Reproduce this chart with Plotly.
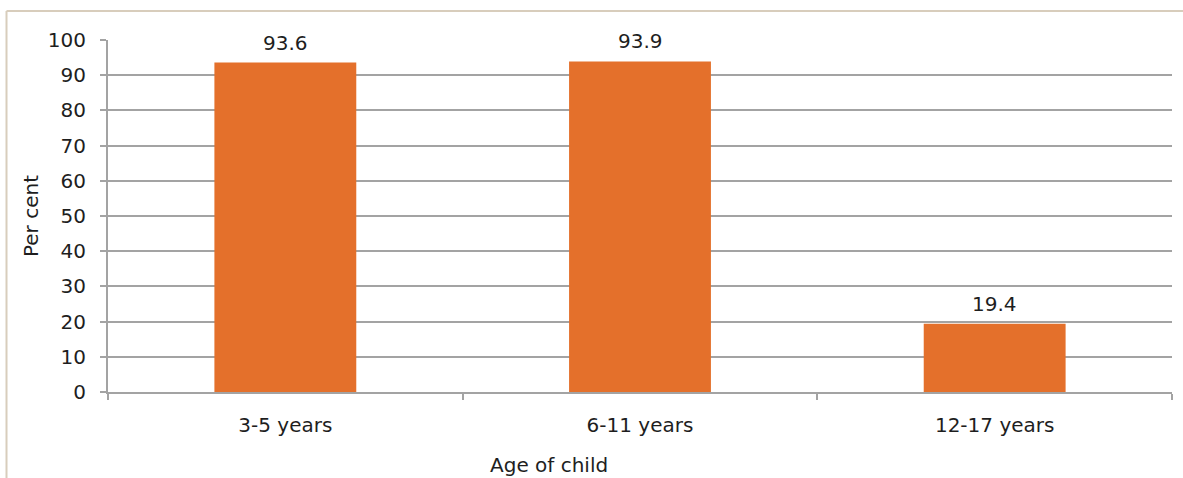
import plotly.graph_objects as go

categories = ["3-5 years", "6-11 years", "12-17 years"]
values = [93.6, 93.9, 19.4]
value_labels = ["93.6", "93.9", "19.4"]

W, H = 1183, 478
L, R, T, B = 108, 11, 40, 86
pw = W - L - R
ph = H - T - B

font_family = "'DejaVu Sans', sans-serif"
fs = 20
txt_color = "#1E1E1E"
bar_color = "#E4702B"
grid_color = "#A3A3A3"

fig = go.Figure()
fig.add_trace(go.Bar(
    x=categories, y=values, width=0.4,
    marker=dict(color=bar_color, line=dict(width=0)),
    cliponaxis=False,
))

for c, v, t in zip(categories, values, value_labels):
    fig.add_annotation(x=c, y=v, text=t, showarrow=False, yanchor="bottom",
                       yshift=6, font=dict(size=fs, color=txt_color, family=font_family))

fig.update_layout(
    width=W, height=H,
    margin=dict(l=L, r=R, t=T, b=B, pad=0),
    paper_bgcolor="white", plot_bgcolor="white",
    showlegend=False,
    font=dict(family=font_family, size=fs, color=txt_color),
    xaxis=dict(
        showgrid=False, showline=True, linecolor=grid_color, linewidth=2,
        ticks="outside", ticklen=6, tickcolor=grid_color, tickwidth=2,
        tickson="boundaries",
        tickfont=dict(size=fs, color=txt_color),
        ticklabelstandoff=14,
    ),
    yaxis=dict(
        range=[0, 100], dtick=10, showgrid=True, gridcolor=grid_color, gridwidth=2,
        showline=True, linecolor=grid_color, linewidth=2,
        ticks="outside", ticklen=6, tickcolor=grid_color, tickwidth=2,
        tickfont=dict(size=fs, color=txt_color),
        ticklabelstandoff=10,
        zeroline=False,
        title=dict(text="Per cent", font=dict(size=fs, color=txt_color), standoff=4),
    ),
    bargap=0.6,
)

fig.add_annotation(
    text="Age of child", xref="paper", yref="paper",
    x=(549 - L) / pw, y=(H - B - 465) / ph, xanchor="center", yanchor="middle",
    showarrow=False, font=dict(size=fs, color=txt_color),
)

# beige frame
x0 = (6.5 - L) / pw
x1 = (1183 - L) / pw
y_top = 1 + (T - 11) / ph
y_bot = -(B + 5) / ph
fig.add_shape(type="line", xref="paper", yref="paper", x0=x0, x1=x1, y0=y_top, y1=y_top,
              line=dict(color="#D8CDBC", width=2))
fig.add_shape(type="line", xref="paper", yref="paper", x0=x0, x1=x0, y0=y_top, y1=y_bot,
              line=dict(color="#D8CDBC", width=2))

fig.write_html("out.html", config={"displayModeBar": False},
               post_script="document.body.style.margin='0';document.body.style.padding='0';")
